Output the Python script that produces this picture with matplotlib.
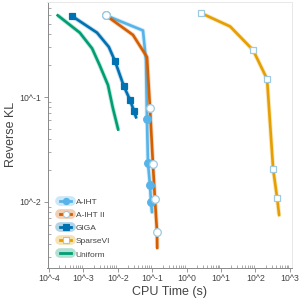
import matplotlib
matplotlib.use("Agg")
import matplotlib.pyplot as plt
from matplotlib.lines import Line2D
from matplotlib.legend_handler import HandlerTuple

plt.rcParams['font.family'] = ['Liberation Sans', 'DejaVu Sans']

# data (CPU time in s, reverse KL)
aiht_t = [4.5e-3, 0.054, 0.066, 0.0706, 0.0755, 0.0863, 0.0923, 0.0986]
aiht_kl = [0.60, 0.43, 0.225, 0.0617, 0.0235, 0.0145, 0.0100, 0.0080]
aiht_mk = [0, 3, 4, 5, 6]

aiht2_t = [4.5e-3, 0.0277, 0.0706, 0.0863, 0.105, 0.120, 0.138, 0.140]
aiht2_kl = [0.60, 0.39, 0.24, 0.0786, 0.023, 0.0107, 0.0052, 0.00365]
aiht2_mk = [0, 3, 4, 5, 6]

giga_t = [4.7e-4, 2.5e-3, 5.5e-3, 8.3e-3, 0.015, 0.0226, 0.0296, 0.034]
giga_kl = [0.59, 0.41, 0.30, 0.22, 0.127, 0.094, 0.0736, 0.064]
giga_mk = [0, 3, 4, 5, 6]

svi_t = [2.62, 18.3, 85, 217, 325, 425, 485]
svi_kl = [0.63, 0.47, 0.28, 0.148, 0.0206, 0.0109, 0.0075]
svi_mk = [0, 2, 3, 4, 5]

unif_t = [1.8e-4, 7.9e-4, 1.8e-3, 3.0e-3, 5.2e-3, 7.2e-3, 0.0103]
unif_kl = [0.60, 0.41, 0.29, 0.20, 0.13, 0.0786, 0.049]

xticks = [1e-4, 1e-3, 1e-2, 1e-1, 1e0, 1e1, 1e2, 1e3]
xticklabels = ['10^-4', '10^-3', '10^-2', '10^-1', '10^0', '10^1', '10^2', '10^3']
yticks = [1e-2, 1e-1]
yticklabels = ['10^-2', '10^-1']

edge = '#9ecae1'
series = [
    ('Uniform', unif_t, unif_kl, '#009E73', None, None, None, None),
    ('SparseVI', svi_t, svi_kl, '#E69F00', svi_mk, 's', 'white', edge),
    ('GIGA', giga_t, giga_kl, '#0072B2', giga_mk, 's', '#0072B2', '#0072B2'),
    ('A-IHT', aiht_t, aiht_kl, '#56B4E9', aiht_mk, 'o', '#56B4E9', '#56B4E9'),
    ('A-IHT II', aiht2_t, aiht2_kl, '#D55E00', aiht2_mk, 'o', 'white', edge),
]

fig = plt.figure(figsize=(2.99, 2.99), dpi=100)
ax = fig.add_axes([47.5 / 299, 31.5 / 299, 244.5 / 299, 265.5 / 299])

handles = {}
for name, t, kl, c, mk, m, fc, ec in series:
    ax.plot(t, kl, color=c, lw=3.2, alpha=0.25, solid_capstyle='butt')
    ax.plot(t, kl, color=c, lw=1.9)
    if mk is not None:
        ax.plot([t[i] for i in mk], [kl[i] for i in mk], ls='none', marker=m,
                ms=5.5 if m == 'o' else 5, mfc=fc, mec=ec, mew=0.9, zorder=5)
    band = Line2D([], [], color=c, alpha=0.3, lw=7, solid_capstyle='round')
    ln = Line2D([], [], color=c, lw=2.0, marker=m if m else None,
                ms=4.5, mfc=fc, mec=ec, mew=0.8)
    handles[name] = (band, ln)

order = ['A-IHT', 'A-IHT II', 'GIGA', 'SparseVI', 'Uniform']
ax.legend([handles[n] for n in order], order,
          handler_map={tuple: HandlerTuple(ndivide=1)},
          loc='lower left', bbox_to_anchor=(0.035, 0.018), frameon=False,
          fontsize=6, handlelength=1.3, handleheight=1.3, handletextpad=0.55,
          labelspacing=0.45, borderpad=0, labelcolor='#444444')

ax.set_xscale('log')
ax.set_yscale('log')
ax.set_xlim(10 ** -4.04, 10 ** 3.06)
ax.set_ylim(10 ** -2.624, 10 ** -0.095)
ax.set_xticks(xticks)
ax.set_xticklabels(xticklabels)
ax.set_yticks(yticks)
ax.set_yticklabels(yticklabels)

ax.tick_params(which='major', direction='out', length=3, width=0.6,
               colors='#888888', labelcolor='#444444', labelsize=6.3, pad=1.5)
ax.tick_params(which='minor', direction='in', length=2, width=0.5,
               colors='#888888')
ax.tick_params(axis='x', which='minor', labelbottom=False)
ax.tick_params(axis='y', which='minor', labelleft=False)

for s in ['left', 'bottom']:
    ax.spines[s].set_color('#888888')
    ax.spines[s].set_linewidth(0.7)
for s in ['top', 'right']:
    ax.spines[s].set_color('#e8e8e8')
    ax.spines[s].set_linewidth(0.7)

ax.set_xlabel('CPU Time (s)', fontsize=9, color='#444444', labelpad=2)
ax.set_ylabel('Reverse KL', fontsize=9, color='#444444', labelpad=2)

fig.savefig('out.png', dpi=100)
